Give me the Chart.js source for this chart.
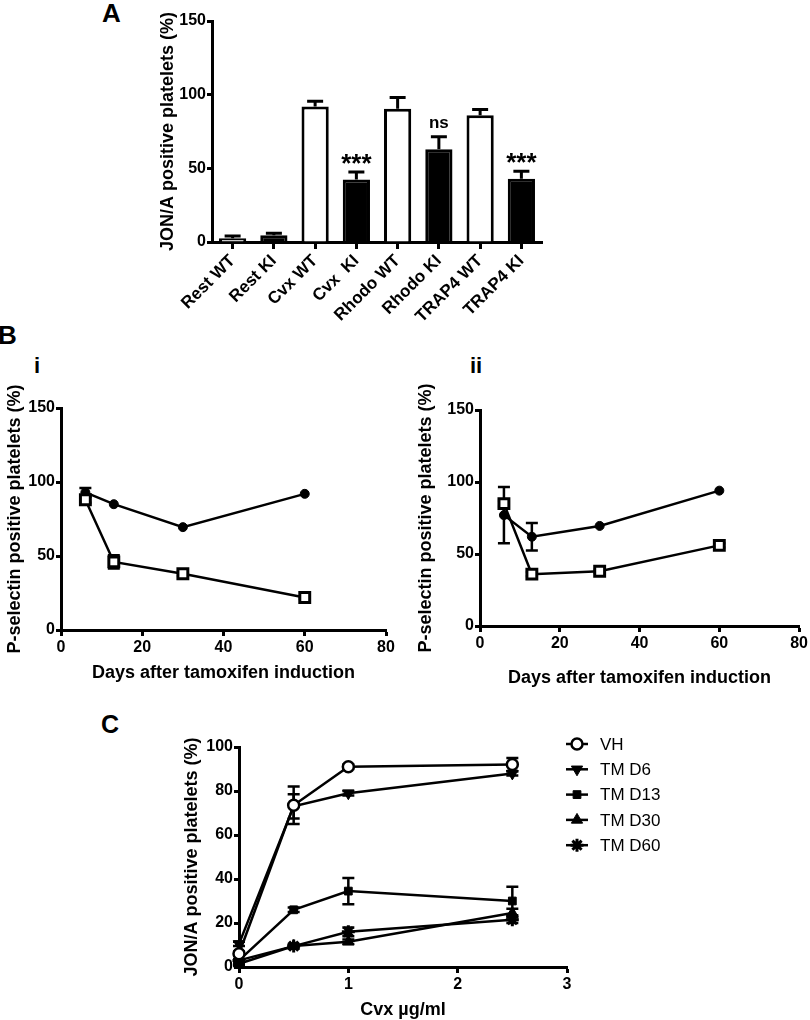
<!DOCTYPE html>
<html>
<head>
<meta charset="utf-8">
<script src="https://cdn.jsdelivr.net/npm/chart.js@4.4.1/dist/chart.umd.min.js"></script>
<style>
  html, body { margin: 0; padding: 0; background: #fff; overflow: hidden; }
  body { width: 810px; height: 1020px; position: relative; font-family: Arial, "Liberation Sans", sans-serif; }
  canvas { position: absolute; }
  .tag { position: absolute; font-weight: bold; color: #000; line-height: 1; }
</style>
</head>
<body>
<div class="tag" style="left:102px;top:0px;font-size:26px">A</div>
<div class="tag" style="left:-2px;top:322px;font-size:26px">B</div>
<div class="tag" style="left:34px;top:355px;font-size:22px">i</div>
<div class="tag" style="left:470px;top:355px;font-size:22px">ii</div>
<div class="tag" style="left:101px;top:712px;font-size:25px">C</div>

<canvas id="chartA" width="460" height="335" style="left:100px;top:0px"></canvas>
<canvas id="chartBi" width="400" height="310" style="left:0px;top:380px"></canvas>
<canvas id="chartBii" width="410" height="315" style="left:400px;top:380px"></canvas>
<canvas id="chartC" width="560" height="312" style="left:140px;top:709px"></canvas>

<script>
// ---- panel A: JON/A bars ----
const barLabels = ['Rest WT', 'Rest KI', 'Cvx WT', 'Cvx  KI', 'Rhodo WT', 'Rhodo KI', 'TRAP4 WT', 'TRAP4 KI'];
const barValues = [2.5, 4.5, 92, 42.5, 90.5, 63, 86, 43];
const barErrors = [1.5, 1.5, 3.5, 5, 7.5, 8.5, 4, 5];
const barSig = ['', '', '', '***', '', 'ns', '', '***'];

// ---- panel B: P-selectin over time ----
const days = [6, 13, 30, 60];
const biCircle = [93, 85, 69.5, 92];
const biCircleErr = [3, 0, 0, 0];
const biSquare = [88, 46, 38, 22];
const biSquareErr = [2, 4.5, 1.5, 1];
const biiCircle = [77, 62, 69.5, 94];
const biiCircleErr = [19.5, 9.5, 0, 0];
const biiSquare = [85, 36, 38, 56];
const biiSquareErr = [2, 1.5, 1, 1.5];

// ---- panel C: Cvx dose response ----
const cvxDoses = [0, 0.5, 1, 2.5];
const vhValues = [6, 73.5, 91, 92];
const vhErr = [1, 8.5, 1, 3];
const d6Values = [10.5, 73, 79, 88];
const d6Err = [1, 5.5, 1, 1];
const d13Values = [3, 26, 34.5, 30];
const d13Err = [0.5, 1, 6, 6.5];
const d30Values = [1.5, 9.5, 11.5, 24.5];
const d30Err = [0.5, 0.5, 1, 2];
const d60Values = [3, 9.5, 16, 21.5];
const d60Err = [0.5, 1, 2, 1.5];
const seriesNames = ['VH', 'TM D6', 'TM D13', 'TM D30', 'TM D60'];

const FONT = 'Arial, "Liberation Sans", Helvetica, sans-serif';
Chart.defaults.font.family = FONT;
Chart.defaults.font.weight = 'bold';
Chart.defaults.color = '#000';
Chart.defaults.animation = false;
Chart.defaults.responsive = false;
Chart.defaults.devicePixelRatio = 1;
Chart.defaults.plugins.legend.display = false;
Chart.defaults.plugins.tooltip.enabled = false;

function yAxis(min, max, step, title, width, fontSize) {
  return {
    min: min, max: max,
    ticks: { stepSize: step, font: { size: fontSize, weight: 'bold' }, padding: 1, color: '#000' },
    grid: { drawOnChartArea: false, drawTicks: true, tickLength: 5, tickWidth: 3, tickColor: '#000' },
    border: { display: true, width: 3, color: '#000' },
    title: { display: true, text: title, color: '#000', font: { size: 18, weight: 'bold' }, padding: { top: 4, bottom: 4 } },
    afterFit: s => { s.width = width; }
  };
}

function xAxis(min, max, step, title, height, titlePadBottom) {
  return {
    type: 'linear', min: min, max: max,
    ticks: { stepSize: step, font: { size: 16, weight: 'bold' }, padding: 2, color: '#000' },
    grid: { drawOnChartArea: false, drawTicks: true, tickLength: 6, tickWidth: 3, tickColor: '#000' },
    border: { display: true, width: 3, color: '#000' },
    title: { display: true, text: title, color: '#000', font: { size: 18, weight: 'bold' }, padding: { top: 4, bottom: titlePadBottom } },
    afterFit: s => { s.height = height; }
  };
}

function series(xs, ys, errs, style) {
  return Object.assign({
    data: xs.map((x, i) => ({ x: x, y: ys[i] })),
    errors: errs,
    borderColor: '#000',
    borderWidth: 2.5,
    pointBorderColor: '#000',
    clip: false,
    tension: 0
  }, style);
}

// error bars, drawn under the markers
const errorBars = {
  id: 'errorBars',
  beforeDatasetsDraw(chart) {
    const ctx = chart.ctx;
    const y = chart.scales.y;
    chart.data.datasets.forEach((ds, di) => {
      if (!ds.errors) return;
      const meta = chart.getDatasetMeta(di);
      ctx.save();
      ctx.strokeStyle = '#000';
      ctx.lineWidth = ds.errorWidth || 2.5;
      meta.data.forEach((el, i) => {
        const e = ds.errors[i];
        if (!e) return;
        const v = typeof ds.data[i] === 'object' ? ds.data[i].y : ds.data[i];
        const top = y.getPixelForValue(v + e);
        const bottom = ds.upOnly ? y.getPixelForValue(v) : y.getPixelForValue(v - e);
        const half = ds.capHalf || 6;
        ctx.beginPath();
        ctx.moveTo(el.x, top);
        ctx.lineTo(el.x, bottom);
        ctx.moveTo(el.x - half, top);
        ctx.lineTo(el.x + half, top);
        if (!ds.upOnly) {
          ctx.moveTo(el.x - half, bottom);
          ctx.lineTo(el.x + half, bottom);
        }
        ctx.stroke();
      });
      ctx.restore();
    });
  }
};

// *** and ns marks above bars
const sigLabels = {
  id: 'sigLabels',
  afterDatasetsDraw(chart) {
    const ctx = chart.ctx;
    const y = chart.scales.y;
    const meta = chart.getDatasetMeta(0);
    barSig.forEach((s, i) => {
      if (!s) return;
      const top = y.getPixelForValue(barValues[i] + barErrors[i]);
      ctx.save();
      ctx.fillStyle = '#000';
      ctx.textAlign = 'center';
      ctx.textBaseline = 'alphabetic';
      if (s === 'ns') {
        ctx.font = 'bold 17px ' + FONT;
        ctx.fillText(s, meta.data[i].x, top - 9);
      } else {
        ctx.font = 'bold 26px ' + FONT;
        ctx.fillText(s, meta.data[i].x, top);
      }
      ctx.restore();
    });
  }
};

// legend to the right of panel C: line + marker + name
const sideLegend = {
  id: 'sideLegend',
  afterDraw(chart) {
    const ctx = chart.ctx;
    const x0 = chart.chartArea.right - 1;
    chart.data.datasets.forEach((ds, i) => {
      const yy = chart.chartArea.top - 3 + i * 25.3;
      ctx.save();
      ctx.strokeStyle = '#000';
      ctx.lineWidth = 2.5;
      ctx.beginPath();
      ctx.moveTo(x0, yy);
      ctx.lineTo(x0 + 22, yy);
      ctx.stroke();
      ctx.fillStyle = ds.pointBackgroundColor;
      ctx.lineWidth = ds.pointBorderWidth;
      Chart.helpers.drawPoint(ctx, {
        pointStyle: ds.pointStyle, radius: ds.pointRadius,
        rotation: ds.pointRotation || 0, borderWidth: ds.pointBorderWidth
      }, x0 + 11, yy);
      ctx.fillStyle = '#000';
      ctx.font = '17px ' + FONT;
      ctx.textBaseline = 'middle';
      ctx.textAlign = 'left';
      ctx.fillText(ds.label, x0 + 34, yy + 1);
      ctx.restore();
    });
  }
};

// panel A
new Chart(document.getElementById('chartA'), {
  type: 'bar',
  data: {
    labels: barLabels,
    datasets: [{
      data: barValues,
      errors: barErrors,
      upOnly: true,
      capHalf: 8,
      errorWidth: 3,
      backgroundColor: barLabels.map(l => l === 'Rest WT' ? '#c8c8c8' : (l.endsWith('KI') ? '#000' : '#fff')),
      borderColor: '#000',
      borderWidth: 3,
      borderSkipped: 'start',
      barPercentage: 0.66,
      categoryPercentage: 1
    }]
  },
  options: {
    layout: { padding: { left: 53, top: 21, right: 18, bottom: 0 } },
    scales: {
      x: {
        ticks: { autoSkip: false, minRotation: 45, maxRotation: 45, font: { size: 17, weight: 'bold' }, padding: 2, color: '#000' },
        grid: { offset: false, drawOnChartArea: false, drawTicks: true, tickLength: 7, tickWidth: 3, tickColor: '#000' },
        border: { display: true, width: 3, color: '#000' },
        afterFit: s => { s.height = 93; }
      },
      y: yAxis(0, 150, 50, 'JON/A positive platelets (%)', 59, 16)
    }
  },
  plugins: [errorBars, sigLabels]
});

// panel B i
new Chart(document.getElementById('chartBi'), {
  type: 'line',
  data: {
    datasets: [
      series(days, biSquare, biSquareErr, { pointStyle: 'rect', pointRadius: 7, pointBackgroundColor: '#fff', pointBorderWidth: 3 }),
      series(days, biCircle, biCircleErr, { pointStyle: 'circle', pointRadius: 4.5, pointBackgroundColor: '#000', pointBorderWidth: 1 })
    ]
  },
  options: {
    layout: { padding: { left: 0, top: 28, right: 14, bottom: 2 } },
    scales: {
      x: xAxis(0, 80, 20, 'Days after tamoxifen induction', 58, 4),
      y: yAxis(0, 150, 50, 'P-selectin positive platelets (%)', 61, 16)
    }
  },
  plugins: [errorBars]
});

// panel B ii
new Chart(document.getElementById('chartBii'), {
  type: 'line',
  data: {
    datasets: [
      series(days, biiSquare, biiSquareErr, { pointStyle: 'rect', pointRadius: 7, pointBackgroundColor: '#fff', pointBorderWidth: 3 }),
      series(days, biiCircle, biiCircleErr, { pointStyle: 'circle', pointRadius: 4.5, pointBackgroundColor: '#000', pointBorderWidth: 1 })
    ]
  },
  options: {
    layout: { padding: { left: 11, top: 30, right: 8, bottom: 2 } },
    scales: {
      x: xAxis(0, 80, 20, 'Days after tamoxifen induction', 67, 4),
      y: yAxis(0, 150, 50, 'P-selectin positive platelets (%)', 69, 16)
    }
  },
  plugins: [errorBars]
});

// panel C
new Chart(document.getElementById('chartC'), {
  type: 'line',
  data: {
    datasets: [
      series(cvxDoses, vhValues, vhErr, { label: seriesNames[0], pointStyle: 'circle', pointRadius: 5.5, pointBackgroundColor: '#fff', pointBorderWidth: 2.5 }),
      series(cvxDoses, d6Values, d6Err, { label: seriesNames[1], pointStyle: 'triangle', pointRotation: 180, pointRadius: 6.5, pointBackgroundColor: '#000', pointBorderWidth: 1 }),
      series(cvxDoses, d13Values, d13Err, { label: seriesNames[2], pointStyle: 'rect', pointRadius: 5.5, pointBackgroundColor: '#000', pointBorderWidth: 1 }),
      series(cvxDoses, d30Values, d30Err, { label: seriesNames[3], pointStyle: 'triangle', pointRadius: 6.5, pointBackgroundColor: '#000', pointBorderWidth: 1 }),
      series(cvxDoses, d60Values, d60Err, { label: seriesNames[4], pointStyle: 'star', pointRadius: 6.5, pointBackgroundColor: '#000', pointBorderWidth: 3 })
    ]
  },
  options: {
    layout: { padding: { left: 37, top: 38, right: 133, bottom: 0 } },
    scales: {
      x: xAxis(0, 3, 1, 'Cvx µg/ml', 54, 0),
      y: yAxis(0, 100, 20, 'JON/A positive platelets (%)', 62, 16)
    }
  },
  plugins: [errorBars, sideLegend]
});
</script>
</body>
</html>
